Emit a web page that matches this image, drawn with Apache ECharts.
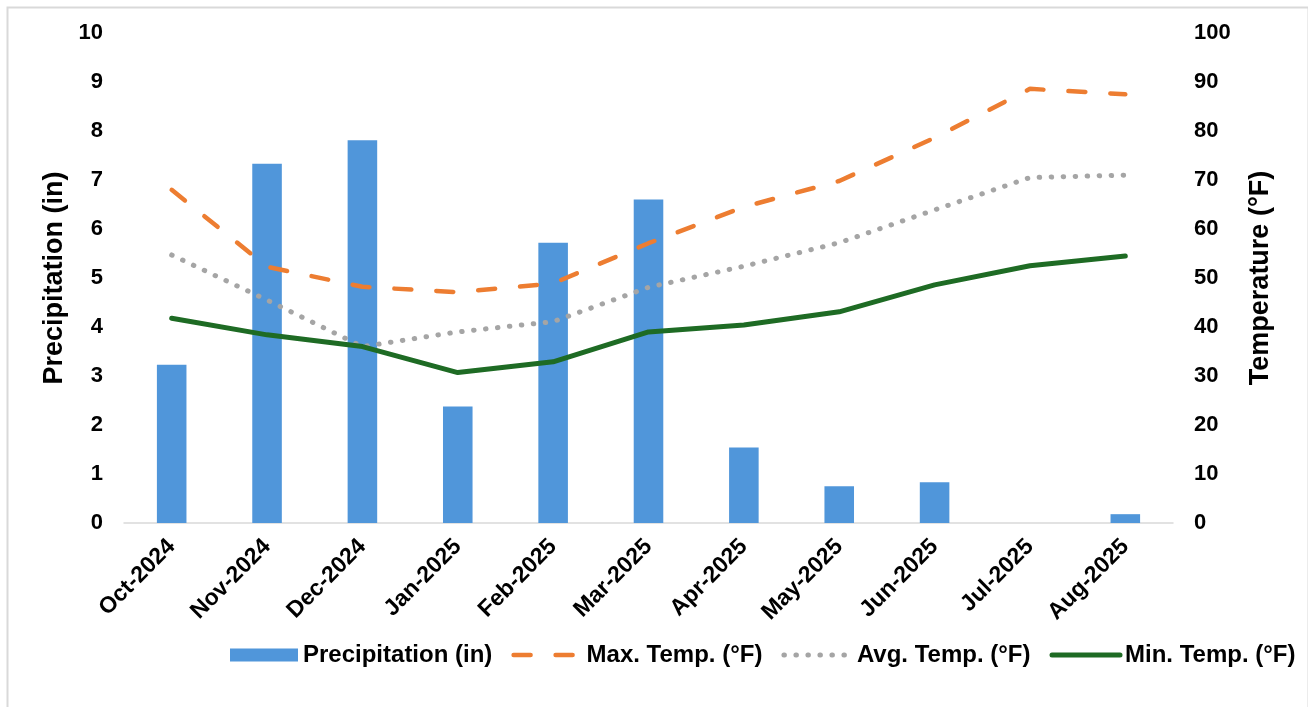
<!DOCTYPE html>
<html>
<head>
<meta charset="utf-8">
<script src="https://cdn.jsdelivr.net/npm/echarts@6/dist/echarts.min.js"></script>
<style>
html,body{margin:0;padding:0;background:#fff;}
#chart{width:1308px;height:707px;}
</style>
</head>
<body>
<div id="chart"></div>
<script>
var categories = ['Oct-2024','Nov-2024','Dec-2024','Jan-2025','Feb-2025','Mar-2025','Apr-2025','May-2025','Jun-2025','Jul-2025','Aug-2025'];
var precipitation = [3.23, 7.33, 7.81, 2.38, 5.72, 6.60, 1.54, 0.75, 0.83, 0, 0.18];
var maxTemp = [68.0, 52.3, 48.2, 47.1, 48.9, 57.1, 64.5, 69.8, 78.6, 88.6, 87.5];
var avgTemp = [54.7, 45.5, 36.0, 39.0, 41.1, 48.1, 52.4, 57.2, 63.9, 70.5, 71.0];
var minTemp = [41.8, 38.4, 36.0, 30.7, 32.9, 39.0, 40.4, 43.1, 48.6, 52.5, 54.5];
var leftTicks = {min: 0, max: 10, interval: 1};
var rightTicks = {min: 0, max: 100, interval: 10};

var FONT = '"Liberation Sans", Arial, sans-serif';
var maxLine = {color: '#ED7D31', width: 4.5, type: [17, 25], cap: 'round'};
var avgLine = {color: '#A5A5A5', width: 5, type: [0.5, 11.5], cap: 'round'};
var minLine = {color: '#1E6B24', width: 5, cap: 'round'};

var chart = echarts.init(document.getElementById('chart'), null, {renderer: 'canvas'});
chart.setOption({
  animation: false,
  backgroundColor: '#fff',
  textStyle: {fontFamily: FONT},
  graphic: [{
    type: 'rect', left: 5, top: 5, silent: true, z: -10,
    shape: {x: 0, y: 0, width: 1301, height: 720},
    style: {fill: 'none', stroke: '#D9D9D9', lineWidth: 2}
  }],
  grid: {left: 124, right: 135, top: 33, bottom: 184, containLabel: false},
  legend: {
    top: 643, left: 230, width: 1076,
    itemGap: 19,
    itemWidth: 68, itemHeight: 13,
    padding: 0,
    textStyle: {fontFamily: FONT, fontWeight: 'bold', fontSize: 24, color: '#000'},
    data: [
      {name: 'Precipitation (in)', icon: 'rect'},
      {name: 'Max. Temp. (°F)', itemStyle: {opacity: 0}, lineStyle: maxLine},
      {name: 'Avg. Temp. (°F)', itemStyle: {opacity: 0}, lineStyle: avgLine},
      {name: 'Min. Temp. (°F)', itemStyle: {opacity: 0}, lineStyle: minLine}
    ]
  },
  xAxis: {
    type: 'category',
    data: categories,
    axisLine: {lineStyle: {color: '#D9D9D9', width: 1.5}},
    axisTick: {show: false},
    axisLabel: {rotate: 45, fontFamily: FONT, fontWeight: 'bold', fontSize: 23, color: '#000', margin: 20, interval: 0}
  },
  yAxis: [{
    type: 'value', min: leftTicks.min, max: leftTicks.max, interval: leftTicks.interval,
    name: 'Precipitation (in)', nameLocation: 'middle', nameGap: 56, nameRotate: 90,
    nameTextStyle: {fontFamily: FONT, fontWeight: 'bold', fontSize: 27, color: '#000'},
    axisLine: {show: false}, axisTick: {show: false}, splitLine: {show: false},
    axisLabel: {fontFamily: FONT, fontWeight: 'bold', fontSize: 22, color: '#000', margin: 21}
  }, {
    type: 'value', min: rightTicks.min, max: rightTicks.max, interval: rightTicks.interval,
    name: 'Temperature (°F)', nameLocation: 'middle', nameGap: 74, nameRotate: 90,
    nameTextStyle: {fontFamily: FONT, fontWeight: 'bold', fontSize: 27, color: '#000'},
    axisLine: {show: false}, axisTick: {show: false}, splitLine: {show: false},
    axisLabel: {fontFamily: FONT, fontWeight: 'bold', fontSize: 22, color: '#000', margin: 21}
  }],
  series: [{
    name: 'Precipitation (in)', type: 'bar', yAxisIndex: 0,
    data: precipitation, barWidth: '31%',
    itemStyle: {color: '#5096DA'}
  }, {
    name: 'Max. Temp. (°F)', type: 'line', yAxisIndex: 1, data: maxTemp,
    symbol: 'none', z: 3,
    itemStyle: {color: '#ED7D31'},
    lineStyle: maxLine
  }, {
    name: 'Avg. Temp. (°F)', type: 'line', yAxisIndex: 1, data: avgTemp,
    symbol: 'none', z: 3,
    itemStyle: {color: '#A5A5A5'},
    lineStyle: avgLine
  }, {
    name: 'Min. Temp. (°F)', type: 'line', yAxisIndex: 1, data: minTemp,
    symbol: 'none', z: 3,
    itemStyle: {color: '#1E6B24'},
    lineStyle: minLine
  }]
});
</script>
</body>
</html>
